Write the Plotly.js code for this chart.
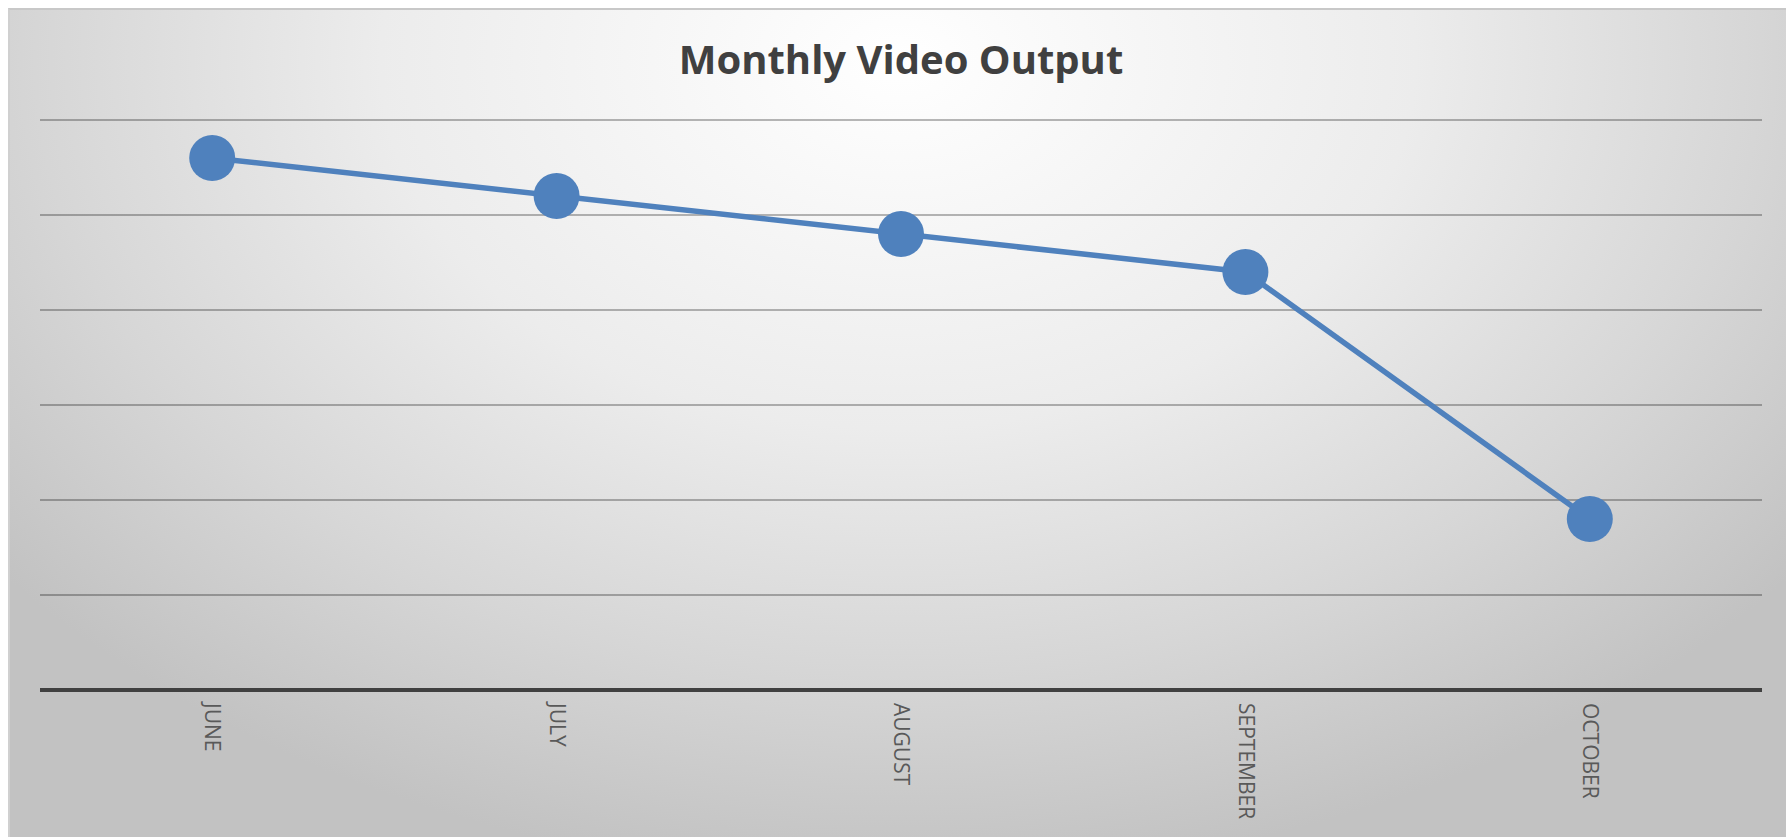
<!DOCTYPE html>
<html>
<head>
<meta charset="utf-8">
<script src="https://cdn.plot.ly/plotly-3.0.1.min.js"></script>
<style>
  html, body { margin: 0; padding: 0; background: #ffffff; overflow: hidden; }
  #bg {
    position: absolute; left: 8px; top: 8px; width: 1778px; height: 829px;
    border-top: 2px solid #c8c8c8; border-left: 2px solid #d0d0d0;
    box-sizing: border-box;
    background: radial-gradient(ellipse 1150px 820px at 50% 6%, #ffffff 0%, #ececec 45%, #d6d6d6 75%, #c2c2c2 100%);
  }
  #chart { position: absolute; left: 0; top: 0; width: 1786px; height: 837px; }
</style>
</head>
<body>
<div id="bg"></div>
<div id="chart"></div>
<script>
const months = ["JUNE", "JULY", "AUGUST", "SEPTEMBER", "OCTOBER"];
const videos = [56, 52, 48, 44, 18];
const yTicks = [0, 10, 20, 30, 40, 50, 60];

const trace = {
  x: months,
  y: videos,
  type: "scatter",
  mode: "lines+markers",
  line: { color: "#4f81bd", width: 5.5 },
  marker: { color: "#4f81bd", size: 46 },
  hoverinfo: "x+y"
};

const layout = {
  width: 1786,
  height: 837,
  paper_bgcolor: "rgba(0,0,0,0)",
  plot_bgcolor: "rgba(0,0,0,0)",
  margin: { l: 40, r: 24, t: 118, b: 147 },
  showlegend: false,
  title: {
    text: "<b>Monthly Video Output</b>",
    font: { family: "Open Sans, Noto Sans, sans-serif", size: 40, color: "#404040" },
    x: 0.5, xanchor: "center", y: 0.928, yanchor: "middle", xref: "paper"
  },
  xaxis: {
    type: "category",
    range: [-0.5, 4.5],
    showgrid: false,
    zeroline: false,
    showline: false,
    ticks: "",
    tickangle: 90,
    ticklabelstandoff: 12,
    tickfont: { family: "Open Sans, sans-serif", size: 21, color: "#595959" }
  },
  yaxis: {
    range: [0, 60.2],
    tickvals: yTicks,
    showticklabels: false,
    showgrid: true,
    gridcolor: "rgba(0,0,0,0.28)",
    gridwidth: 1.5,
    zeroline: true,
    zerolinecolor: "#404040",
    zerolinewidth: 3.5,
    showline: false,
    ticks: ""
  }
};

Plotly.newPlot("chart", [trace], layout, { displayModeBar: false, responsive: false });
</script>
</body>
</html>
